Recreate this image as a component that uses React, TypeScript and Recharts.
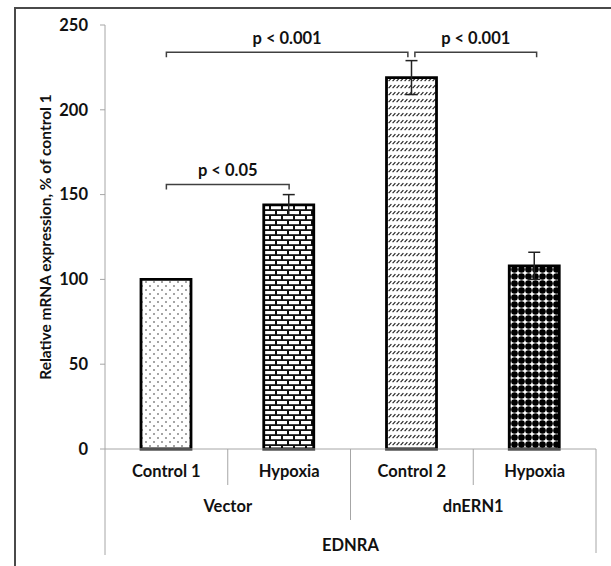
import React from "react";
import {
  BarChart,
  Bar,
  Cell,
  XAxis,
  YAxis,
  ErrorBar,
  ReferenceLine,
} from "recharts";

// chart values
const categories = ["Control 1", "Hypoxia", "Control 2", "Hypoxia"];
const categoryIds = ["vec-ctrl", "vec-hyp", "dn-ctrl", "dn-hyp"];
const groups = ["Vector", "Vector", "dnERN1", "dnERN1"];
const gene = "EDNRA";
const values = [100, 144, 219, 108];
const errors = [0, 6, 10, 8];
const fills = ["dots", "bricks", "hatch", "diamonds"];
const yTicks = [0, 50, 100, 150, 200, 250];

// significance brackets (category index from/to, height in %)
const brackets = [
  { from: 0, to: 2, y: 234, label: "p < 0.001", padL: 0, padR: 4 },
  { from: 2, to: 3, y: 234, label: "p < 0.001", padL: 3, padR: -2 },
  { from: 0, to: 1, y: 156, label: "p < 0.05", padL: 0, padR: 0 },
];

const data = categoryIds.map((id, i) => ({
  id,
  name: categories[i],
  value: values[i],
  err: errors[i],
}));

const FONT = "Lato, 'Open Sans', sans-serif";
const LINE = "#a6a6a6";
const LABEL_SIZE = 16.5;

const CategoryTick = (props: any) => {
  const { x, y, payload, index } = props;
  const half =
    payload && payload.offset ? payload.offset : props.width / categories.length / 2;
  const i = index;
  const last = categories.length - 1;
  const groupStart = i === 0 || groups[i - 1] !== groups[i];
  const groupEnd = i === last || groups[i + 1] !== groups[i];
  const groupSize = groups.filter((g) => g === groups[i]).length;
  const textProps = {
    textAnchor: "middle" as const,
    dominantBaseline: "central" as const,
    fontFamily: FONT,
    fontWeight: 700,
    fontSize: LABEL_SIZE,
    fill: "#111",
  };
  return (
    <g>
      <text x={x} y={y + 22} {...textProps}>
        {categories[i]}
      </text>
      {i < last && !groupEnd && (
        <line x1={x + half} x2={x + half} y1={y} y2={y + 36} stroke={LINE} />
      )}
      {i < last && groupEnd && (
        <line x1={x + half} x2={x + half} y1={y} y2={y + 71} stroke={LINE} />
      )}
      {i === 0 && (
        <line x1={x - half} x2={x - half} y1={y} y2={y + 106} stroke={LINE} />
      )}
      {i === last && (
        <line x1={x + half} x2={x + half} y1={y} y2={y + 104} stroke={LINE} />
      )}
      {groupStart && (
        <text x={x + (groupSize - 1) * half} y={y + 57} {...textProps}>
          {groups[i]}
        </text>
      )}
      {i === 0 && (
        <text x={x + last * half} y={y + 96} {...textProps}>
          {gene}
        </text>
      )}
    </g>
  );
};

const makeBracket = (b: any) => (props: any) => {
  const { x1, x2, y1 } = props;
  const l = x1 + b.padL;
  const r = x2 - b.padR;
  return (
    <g>
      <path
        d={`M${l},${y1 + 5} L${l},${y1} L${r},${y1} L${r},${y1 + 5}`}
        fill="none"
        stroke="#404040"
        strokeWidth={1.5}
      />
      <text
        x={(l + r) / 2}
        y={y1 - 8}
        textAnchor="middle"
        fontFamily={FONT}
        fontWeight={700}
        fontSize={LABEL_SIZE}
        fill="#111"
      >
        {b.label}
      </text>
    </g>
  );
};

// title sits at the middle of the plot area (25..449)
const YTitle = () => {
  const cx = 45;
  const cy = 237;
  return (
    <text
      x={cx}
      y={cy}
      transform={`rotate(-90 ${cx} ${cy})`}
      textAnchor="middle"
      dominantBaseline="central"
      fontFamily={FONT}
      fontWeight={700}
      fontSize={15.5}
      fill="#111"
    >
      Relative mRNA expression, % of control 1
    </text>
  );
};

export default function App() {
  return (
    <div
      style={{
        position: "absolute",
        left: 0,
        top: 0,
        width: 611,
        height: 566,
        background: "#fff",
        overflow: "hidden",
      }}
    >
      <div
        style={{
          position: "absolute",
          left: 14,
          top: 7,
          right: 0,
          bottom: -5,
          borderTop: "2px solid #4a4a4a",
          borderLeft: "2px solid #4a4a4a",
        }}
      />
      <div style={{ position: "absolute", left: 0, top: 0 }}>
        <BarChart
          width={611}
          height={566}
          data={data}
          margin={{ top: 25, right: 15, left: 0, bottom: 0 }}
          barSize={50}
        >
          <defs>
            <pattern id="dots" width="8" height="8" patternUnits="userSpaceOnUse">
              <rect width="8" height="8" fill="#fff" />
              <circle cx="2" cy="2" r="0.8" fill="#333" />
              <circle cx="6" cy="6" r="0.8" fill="#333" />
            </pattern>
            <pattern id="bricks" width="12" height="10" patternUnits="userSpaceOnUse">
              <rect width="12" height="10" fill="#111" />
              <rect x="1" y="1" width="10" height="3.2" fill="#fff" />
              <rect x="-5" y="6" width="10" height="3.2" fill="#fff" />
              <rect x="7" y="6" width="10" height="3.2" fill="#fff" />
            </pattern>
            <pattern id="hatch" width="4" height="7" patternUnits="userSpaceOnUse">
              <rect width="4" height="7" fill="#fff" />
              <path d="M0.6,4.2 L3.4,1.2" stroke="#222" strokeWidth="1.2" />
            </pattern>
            <pattern id="diamonds" width="7" height="7" patternUnits="userSpaceOnUse">
              <rect width="7" height="7" fill="#fff" />
              <circle cx="3.5" cy="3.5" r="3.3" fill="#000" />
            </pattern>
          </defs>
          <XAxis
            dataKey="id"
            height={117}
            tickLine={false}
            tickSize={0}
            tickMargin={0}
            axisLine={{ stroke: LINE }}
            tick={<CategoryTick />}
            interval={0}
          />
          <YAxis
            width={105}
            domain={[0, 250]}
            ticks={yTicks}
            tickSize={5}
            tickMargin={12}
            axisLine={{ stroke: LINE }}
            tickLine={{ stroke: LINE }}
            tick={{
              fontFamily: FONT,
              fontWeight: 700,
              fontSize: LABEL_SIZE,
              fill: "#111",
            }}
            label={{ content: <YTitle /> }}
          />
          <Bar
            dataKey="value"
            stroke="#000"
            strokeWidth={2.8}
            isAnimationActive={false}
          >
            {data.map((d, i) => (
              <Cell key={d.id} fill={`url(#${fills[i]})`} />
            ))}
            <ErrorBar
              dataKey="err"
              width={6}
              stroke="#222"
              strokeWidth={1.5}
              isAnimationActive={false}
            />
          </Bar>
          {brackets.map((b, k) => (
            <ReferenceLine
              key={k}
              segment={[
                { x: categoryIds[b.from], y: b.y },
                { x: categoryIds[b.to], y: b.y },
              ]}
              shape={makeBracket(b)}
            />
          ))}
        </BarChart>
      </div>
    </div>
  );
}
